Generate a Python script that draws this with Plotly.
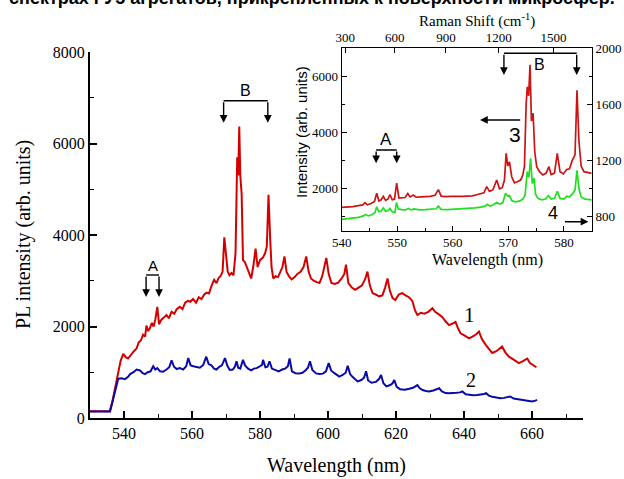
import plotly.graph_objects as go

# ---------------- data: main panel ----------------
wl1 = [530, 535.8, 536.5, 537.4, 538.3, 539.0, 539.8, 540.5, 541.2, 542.0, 542.8, 543.7, 544.3, 545.0,
       545.6, 546.2, 546.6, 547.1, 547.6, 548.2, 548.7, 549.2, 549.8, 550.3, 551.0, 551.8, 552.5, 553.2,
       554.0, 554.8, 555.5, 556.4, 557.2, 558.0, 558.8, 559.5, 560.3, 561.2, 562.0, 562.8, 563.6, 564.3,
       565.0, 565.8, 566.5, 567.2, 567.8, 568.4, 569.0, 569.5, 570.0, 570.5, 571.0, 571.6, 572.2, 572.8,
       573.3, 573.6, 573.9, 574.2, 574.6, 575.0, 575.6, 576.2, 576.8, 577.4, 578.0, 578.7, 579.3, 580.0,
       580.8, 581.5, 582.0, 582.5, 583.0, 583.4, 583.9, 584.6, 585.3, 586.0, 586.6, 587.2, 587.8, 588.5,
       589.3, 590.2, 591.0, 592.0, 592.8, 593.6, 594.3, 595.0, 595.8, 596.7, 597.5, 598.3, 599.0, 599.5,
       600.2, 601.0, 602.0, 603.0, 604.0, 604.8, 605.3, 606.0, 607.0, 608.0, 609.0, 610.0, 611.0, 611.6,
       612.3, 613.1, 614.0, 615.0, 616.0, 616.8, 617.5, 618.2, 619.0, 619.8, 620.8, 621.8, 622.8, 623.8,
       624.8, 625.6, 626.3, 627.3, 628.3, 629.5, 630.7, 631.5, 632.3, 633.6, 634.5, 635.6, 636.5, 637.5,
       638.3, 639.0, 640.2, 641.5, 642.5, 643.6, 644.4, 645.3, 646.4, 647.4, 648.3, 649.5, 650.5, 651.2,
       652.2, 653.2, 654.5, 656.1, 657.5, 658.6, 659.4, 660.2, 661.3]
pl1 = [150, 150, 330, 650, 1000, 1250, 1400, 1330, 1300, 1380, 1450, 1520, 1650, 1700,
       1820, 1780, 2020, 1900, 1960, 2080, 2000, 2150, 2430, 2050, 2150, 2200, 2250, 2180,
       2320, 2280, 2380, 2430, 2380, 2520, 2560, 2540, 2600, 2520, 2640, 2600, 2700, 2740,
       2720, 2900, 3020, 2950, 3060, 3100, 3200, 3950, 3500, 3200, 3120, 3170, 3120, 3600,
       5700, 5300, 6370, 5300, 4900, 3450, 3400, 3280, 3150, 3050, 3300, 3700, 3300, 3450,
       3500, 3600, 3750, 4880, 3900, 3300, 3050, 3100, 3080, 3200, 3300, 3530, 3200, 3100,
       3030, 3080, 3150, 3200, 3300, 3530, 3200, 3050, 3000, 2970, 2950, 3100, 3300, 3500,
       3150, 2950, 2930, 2960, 3050, 3150, 3350, 2950, 2850, 2800, 2850, 2900, 3050, 3200,
       2900, 2730, 2700, 2660, 2680, 2850, 3050, 2780, 2620, 2580, 2700, 2730, 2680, 2640,
       2560, 2350, 2250, 2300, 2280, 2320, 2400, 2320, 2280, 2210, 2120, 2030, 2060, 2100,
       1950, 1850, 1800, 1740, 1780, 1830, 1890, 1720, 1600, 1500, 1420, 1460, 1520, 1560,
       1430, 1340, 1280, 1200, 1250, 1300, 1200, 1160, 1110]

wl2 = [530, 535.9, 536.6, 537.4, 538.3, 539.3, 540.3, 541.2, 541.8, 542.8, 543.7, 544.7, 545.5, 546.2,
       547.0, 547.8, 548.6, 549.2, 549.8, 550.6, 551.5, 552.5, 553.3, 554.0, 554.7, 555.5, 556.4, 557.4,
       558.3, 558.9, 559.6, 560.4, 561.3, 562.3, 563.3, 564.2, 564.9, 565.7, 566.5, 567.2, 568.0, 568.8,
       569.7, 570.4, 571.1, 572.0, 572.6, 573.1, 573.6, 574.2, 575.0, 575.6, 576.5, 577.4, 578.2, 579.0,
       579.8, 580.6, 580.9, 581.6, 582.2, 582.8, 583.5, 584.5, 585.5, 586.5, 587.4, 588.2, 588.7, 589.4,
       590.4, 591.6, 592.5, 593.5, 594.1, 594.7, 595.4, 596.5, 597.5, 598.5, 599.4, 600.2, 600.9, 601.9,
       603.3, 604.3, 605.2, 605.8, 606.5, 607.2, 608.7, 609.8, 610.6, 611.2, 611.8, 612.8, 614.1, 615.0,
       615.6, 616.3, 617.2, 618.3, 619.0, 619.5, 620.2, 621.2, 622.6, 623.9, 625.0, 625.7, 626.3, 627.0,
       627.8, 628.8, 629.7, 631.0, 632.0, 632.7, 633.5, 634.6, 635.6, 636.6, 637.8, 638.8, 639.5, 640.5,
       641.5, 642.7, 643.9, 645.0, 645.9, 646.5, 647.3, 648.3, 649.5, 650.7, 651.8, 652.8, 653.6, 654.6,
       656.1, 658.1, 659.2, 660.0, 661.0, 661.5]
pl2 = [140, 140, 350, 620, 860, 870, 850, 900, 960, 1000, 1060, 1040, 980, 960,
       1000, 1020, 1130, 1060, 1090, 1020, 1010, 1060, 1110, 1260, 1120, 1070, 1090, 1060,
       1130, 1310, 1150, 1130, 1120, 1100, 1160, 1340, 1180, 1150, 1080, 1060, 1120, 1150,
       1310, 1140, 1050, 1060, 1120, 1240, 1100, 1080, 1270, 1150, 1080, 1040, 1080, 1090,
       1120, 1160, 1270, 1110, 1120, 1240, 1080, 1050, 1020, 1060, 1080, 1130, 1300, 1020,
       980, 975, 990, 1050, 1100, 1240, 1050, 975, 960, 970, 1020, 1200, 1040, 980,
       905, 940, 990, 1140, 960, 900, 800, 830, 880, 1020, 820, 770, 790, 850,
       940, 760, 690, 720, 760, 830, 680, 630, 620, 640, 660, 690, 720, 650,
       610, 590, 580, 600, 620, 650, 580, 545, 540, 540, 550, 560, 580, 520,
       505, 500, 505, 510, 525, 545, 490, 465, 450, 430, 440, 450, 470, 425,
       410, 395, 380, 360, 380, 395]

# ---------------- data: inset ----------------
wl3 = [540.0, 541.0, 542.0, 543.0, 543.8, 544.2, 544.6, 545.3, 545.9, 546.3, 546.7, 547.1, 547.5, 547.9,
       548.3, 548.7, 549.1, 549.5, 549.9, 550.3, 550.9, 551.4, 551.9, 552.3, 552.9, 553.4, 554.2, 555.0,
       555.9, 556.8, 557.4, 557.9, 558.7, 559.7, 560.7, 561.7, 562.7, 563.5, 564.3, 565.0, 565.6, 566.1,
       566.6, 567.2, 567.9, 568.4, 568.9, 569.3, 569.6, 569.9, 570.2, 570.6, 571.1, 571.7, 572.2, 572.6,
       572.9, 573.2, 573.4, 573.65, 573.9, 574.15, 574.45, 574.75, 575.1, 575.6, 576.2, 576.8, 577.3, 577.7,
       578.3, 578.8, 579.3, 579.9, 580.5, 581.0, 581.5, 582.0, 582.35, 582.7, 583.1, 583.6, 584.3, 585.0]
int3 = [1330, 1340, 1360, 1390, 1420, 1500, 1420, 1470, 1540, 1830, 1560, 1600, 1720, 1580,
        1620, 1780, 1600, 1620, 2190, 1660, 1660, 1680, 1820, 1700, 1770, 1690, 1700, 1710,
        1720, 1760, 1960, 1730, 1710, 1720, 1710, 1720, 1730, 1740, 1780, 1810, 1850, 2070,
        1900, 1950, 2300, 1990, 2030, 2300, 3250, 2800, 2950, 2420, 2200, 2250, 2300, 2480,
        2800, 5000, 5620, 5300, 6400, 4400, 4680, 3300, 2780, 2600, 2480, 2550, 2780, 2500,
        2550, 3250, 2600, 2520, 2680, 2700, 3000, 3200, 5500, 3700, 2800, 2600, 2560, 2540]

wl4 = [540.0, 541.5, 543.0, 543.9, 544.3, 544.8, 545.5, 546.0, 546.3, 546.7, 547.1, 547.5, 547.9, 548.3,
       548.7, 549.1, 549.6, 549.85, 550.2, 550.8, 551.5, 552.0, 552.5, 553.0, 554.0, 555.0, 556.0, 557.0,
       557.4, 557.9, 559.0, 560.0, 561.0, 562.0, 563.0, 564.0, 565.0, 565.8, 566.2, 566.7, 567.3, 567.9,
       568.4, 569.0, 569.5, 569.9, 570.2, 570.6, 571.2, 572.0, 572.6, 573.0, 573.4, 573.7, 574.0, 574.3,
       574.6, 574.9, 575.3, 576.0, 576.7, 577.2, 577.7, 578.3, 578.8, 579.3, 580.0, 580.5, 581.0, 581.6,
       582.0, 582.35, 582.7, 583.1, 583.8, 584.5, 585.0]
int4 = [780, 785, 795, 805, 815, 805, 815, 830, 870, 835, 840, 862, 838, 842,
        857, 835, 830, 900, 855, 850, 848, 858, 848, 855, 848, 850, 852, 856,
        875, 852, 850, 852, 853, 855, 858, 862, 868, 875, 888, 876, 885, 900,
        890, 900, 966, 945, 950, 915, 905, 910, 925, 950, 1120, 1080, 1215, 1035,
        1075, 960, 930, 920, 925, 950, 925, 930, 980, 930, 925, 945, 940, 965,
        990, 1130, 1000, 940, 925, 920, 920]

raman_ticks = [300, 600, 900, 1200, 1500]
laser_nm = 532.0

# ---------------- geometry helpers (pixel -> paper) ----------------
W, H = 624, 479
def px(x):
    return x / W
def py(y):
    return 1 - y / H

serif = "Liberation Serif"
sans = "Liberation Sans"

fig = go.Figure()
fig.add_trace(go.Scatter(x=wl1, y=pl1, mode="lines", line=dict(color="#d40000", width=2),
                         xaxis="x", yaxis="y", hoverinfo="skip"))
fig.add_trace(go.Scatter(x=wl2, y=pl2, mode="lines", line=dict(color="#0a0aa8", width=2),
                         xaxis="x", yaxis="y", hoverinfo="skip"))
fig.add_trace(go.Scatter(x=wl3, y=int3, mode="lines", line=dict(color="#cc1414", width=1.7),
                         xaxis="x2", yaxis="y2", hoverinfo="skip"))
fig.add_trace(go.Scatter(x=wl4, y=int4, mode="lines", line=dict(color="#1ee01e", width=1.7),
                         xaxis="x2", yaxis="y3", hoverinfo="skip"))

raman_wl = [1e7 / (1e7 / laser_nm - r) for r in raman_ticks]
# invisible carrier trace so the top (Raman shift) axis is drawn with its labels
fig.add_trace(go.Scatter(x=raman_wl, y=[600] * len(raman_wl), mode="lines", opacity=0,
                         line=dict(width=0), xaxis="x3", yaxis="y2", hoverinfo="skip"))

axis_common = dict(showgrid=False, zeroline=False, showline=True, linecolor="black",
                   ticks="inside", tickcolor="black", automargin=False)

fig.update_layout(
    template="none",
    width=W, height=H, margin=dict(l=0, r=0, t=0, b=0, pad=0, autoexpand=False),
    paper_bgcolor="white", plot_bgcolor="rgba(0,0,0,0)", showlegend=False,
    xaxis=dict(**axis_common, domain=[px(90), px(583)], range=[530, 675], anchor="y",
               tickmode="linear", tick0=540, dtick=20, ticklen=7, tickwidth=1.5, linewidth=2,
               minor=dict(ticks="inside", dtick=10, tick0=530, ticklen=4, tickwidth=1.2, tickcolor="black"),
               tickfont=dict(family=serif, size=16, color="black")),
    yaxis=dict(**axis_common, domain=[py(418), py(52)], range=[0, 8000], anchor="x",
               tickmode="linear", tick0=0, dtick=2000, ticklen=7, tickwidth=1.5, linewidth=2,
               minor=dict(ticks="inside", dtick=1000, ticklen=4, tickwidth=1.2, tickcolor="black"),
               tickfont=dict(family=serif, size=16, color="black")),
    xaxis2=dict(**axis_common, domain=[px(341.7), px(591.7)], range=[540, 585], anchor="y2",
                tickmode="linear", tick0=550, dtick=10, ticklen=5, tickwidth=1, linewidth=1.2,
                minor=dict(ticks="inside", dtick=5, tick0=540, ticklen=3, tickwidth=1, tickcolor="black"),
                tickfont=dict(family=serif, size=13, color="black")),
    xaxis3=dict(**axis_common, overlaying="x2", side="top", anchor="y2", range=[540, 585],
                tickmode="array", tickvals=raman_wl, ticktext=[str(r) for r in raman_ticks],
                ticklen=5, tickwidth=1, linewidth=1.2, showticklabels=True,
                tickfont=dict(family=serif, size=13, color="black")),
    yaxis2=dict(**axis_common, domain=[py(230.7), py(48)], range=[500, 7000], anchor="x2",
                tickmode="linear", tick0=2000, dtick=2000, ticklen=5, tickwidth=1, linewidth=1.2,
                minor=dict(ticks="inside", dtick=1000, tick0=1000, ticklen=3, tickwidth=1, tickcolor="black"),
                tickfont=dict(family=serif, size=13, color="black")),
    yaxis3=dict(**axis_common, overlaying="y2", side="right", anchor="x2", range=[700, 2000],
                tickmode="linear", tick0=800, dtick=400, ticklen=5, tickwidth=1, linewidth=1.2,
                minor=dict(ticks="inside", dtick=200, tick0=800, ticklen=3, tickwidth=1, tickcolor="black"),
                tickfont=dict(family=serif, size=13, color="black")),
)

def label(text, x, y, size, family, xref="paper", yref="paper", angle=0):
    return dict(text=text, x=x, y=y, xref=xref, yref=yref, xanchor="center", yanchor="middle",
                showarrow=False, textangle=angle, font=dict(family=family, size=size, color="black"))

ann = []
# titles
ann.append(label("Wavelength (nm)", px(336), py(465), 20, serif))
ann.append(label("PL intensity (arb. units)", px(23), py(235), 20, serif, angle=-90))
ann.append(label("Intensity (arb. units)", px(301), py(132), 15, sans, angle=-90))
ann.append(label("Wavelength (nm)", px(487), py(260), 16, serif))
ann.append(label("Raman Shift (cm<sup>-1</sup>)", px(477), py(20), 15, serif))
# clipped line of surrounding page text
ann.append(label("<b>спектрах ГУ5 агрегатов, прикрепленных к поверхности микросфер.</b>",
                 px(312), py(-2), 18, sans))
# curve labels
ann.append(label("1", 641.5, 2250, 21, serif, "x", "y"))
ann.append(label("2", 642, 830, 20, serif, "x", "y"))
ann.append(label("A", 548.4, 3344, 15, sans, "x", "y"))
ann.append(label("B", 575.8, 7154, 16, sans, "x", "y"))
ann.append(label("A", 548.0, 3728, 17, sans, "x2", "y2"))
ann.append(label("B", 575.6, 6397, 16, sans, "x2", "y2"))
ann.append(label("3", 571.2, 3905, 21, sans, "x2", "y2"))
ann.append(label("4", 578.1, 828, 18, sans, "x2", "y3"))

def arrow(xref, yref, x0, y0, x1, y1):
    return dict(text="", x=x1, y=y1, ax=x0, ay=y0, xref=xref, yref=yref, axref=xref, ayref=yref,
                showarrow=True, arrowhead=2, arrowsize=1.1, arrowwidth=1.4, arrowcolor="black")

# bracket arrows, main
for xa in (546.5, 550.3):
    ann.append(arrow("x", "y", xa, 3126, xa, 2645))
for xb in (569.3, 582.3):
    ann.append(arrow("x", "y", xb, 6935, xb, 6455))
# bracket arrows, inset
for xa in (546.2, 549.9):
    ann.append(arrow("x2", "y2", xa, 3372, xa, 2898))
for xb in (569.2, 582.3):
    ann.append(arrow("x2", "y2", xb, 6813, xb, 6041))
# axis pointer arrows
ann.append(arrow("x2", "y2", 572.4, 4440, 564.9, 4440))
ann.append(arrow("x2", "y3", 579.9, 764, 584.4, 764))

fig.update_layout(annotations=ann)

shapes = []
shapes.append(dict(type="line", xref="x", yref="y", x0=546.5, x1=550.3, y0=3126, y1=3126,
                   line=dict(color="black", width=1.4)))
shapes.append(dict(type="line", xref="x", yref="y", x0=569.3, x1=582.3, y0=6935, y1=6935,
                   line=dict(color="black", width=1.4)))
shapes.append(dict(type="line", xref="x2", yref="y2", x0=546.2, x1=549.9, y0=3372, y1=3372,
                   line=dict(color="black", width=1.4)))
shapes.append(dict(type="line", xref="x2", yref="y2", x0=569.2, x1=582.3, y0=6813, y1=6813,
                   line=dict(color="black", width=1.4)))
fig.update_layout(shapes=shapes)

fig.write_html("out.html", config={"displayModeBar": False},
               post_script="document.body.style.margin='0';")
